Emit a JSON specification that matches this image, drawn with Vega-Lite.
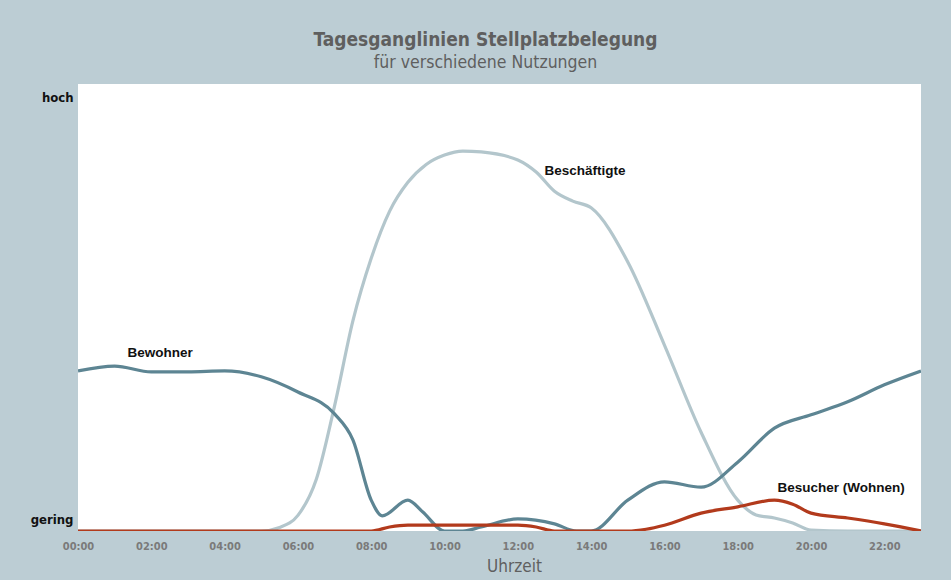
{
  "$schema": "https://vega.github.io/schema/vega-lite/v6.json",
  "autosize": "none",
  "width": 843,
  "height": 447,
  "padding": {"left": 78, "top": 84, "right": 30, "bottom": 49},
  "background": "#bccdd4",
  "config": {
    "view": {"fill": "#ffffff", "stroke": null},
    "font": "Liberation Sans"
  },
  "title": {
    "text": "Tagesganglinien Stellplatzbelegung",
    "subtitle": "für verschiedene Nutzungen",
    "font": "DejaVu Sans Condensed",
    "fontSize": 19,
    "fontWeight": "bold",
    "color": "#5f5f5f",
    "subtitleFont": "DejaVu Sans Condensed",
    "subtitleFontSize": 17.5,
    "subtitleColor": "#5f5f5f",
    "subtitlePadding": 4,
    "anchor": "middle",
    "dx": -14,
    "offset": 13
  },
  "datasets": {
    "lines": [
      {"h": 0, "v": 0, "s": "Beschäftigte"},
      {"h": 5, "v": 0, "s": "Beschäftigte"},
      {"h": 5.5, "v": 0.8, "s": "Beschäftigte"},
      {"h": 6, "v": 3.5, "s": "Beschäftigte"},
      {"h": 6.5, "v": 11.5, "s": "Beschäftigte"},
      {"h": 7, "v": 28, "s": "Beschäftigte"},
      {"h": 7.5, "v": 47, "s": "Beschäftigte"},
      {"h": 8, "v": 61, "s": "Beschäftigte"},
      {"h": 8.5, "v": 71.5, "s": "Beschäftigte"},
      {"h": 9, "v": 78, "s": "Beschäftigte"},
      {"h": 9.5, "v": 82, "s": "Beschäftigte"},
      {"h": 10, "v": 84.1, "s": "Beschäftigte"},
      {"h": 10.5, "v": 85, "s": "Beschäftigte"},
      {"h": 11, "v": 84.8, "s": "Beschäftigte"},
      {"h": 12, "v": 83, "s": "Beschäftigte"},
      {"h": 12.5, "v": 80.3, "s": "Beschäftigte"},
      {"h": 13, "v": 76, "s": "Beschäftigte"},
      {"h": 13.5, "v": 73.8, "s": "Beschäftigte"},
      {"h": 14, "v": 72.3, "s": "Beschäftigte"},
      {"h": 15, "v": 60.2, "s": "Beschäftigte"},
      {"h": 16, "v": 41.6, "s": "Beschäftigte"},
      {"h": 17, "v": 22.1, "s": "Beschäftigte"},
      {"h": 18, "v": 6.9, "s": "Beschäftigte"},
      {"h": 18.5, "v": 3.6, "s": "Beschäftigte"},
      {"h": 19, "v": 2.9, "s": "Beschäftigte"},
      {"h": 19.5, "v": 1.8, "s": "Beschäftigte"},
      {"h": 20, "v": 0.2, "s": "Beschäftigte"},
      {"h": 21, "v": 0, "s": "Beschäftigte"},
      {"h": 23, "v": 0, "s": "Beschäftigte"},
      {"h": 0, "v": 35.8, "s": "Bewohner"},
      {"h": 1, "v": 36.9, "s": "Bewohner"},
      {"h": 2, "v": 35.6, "s": "Bewohner"},
      {"h": 3, "v": 35.6, "s": "Bewohner"},
      {"h": 4, "v": 35.8, "s": "Bewohner"},
      {"h": 5, "v": 34.5, "s": "Bewohner"},
      {"h": 6, "v": 31.1, "s": "Bewohner"},
      {"h": 7, "v": 26.2, "s": "Bewohner"},
      {"h": 7.5, "v": 20.4, "s": "Bewohner"},
      {"h": 8, "v": 6.9, "s": "Bewohner"},
      {"h": 8.3, "v": 3.4, "s": "Bewohner"},
      {"h": 9, "v": 6.9, "s": "Bewohner"},
      {"h": 9.4, "v": 4.3, "s": "Bewohner"},
      {"h": 10, "v": 0, "s": "Bewohner"},
      {"h": 10.5, "v": 0, "s": "Bewohner"},
      {"h": 11, "v": 0.9, "s": "Bewohner"},
      {"h": 12, "v": 2.7, "s": "Bewohner"},
      {"h": 13, "v": 1.6, "s": "Bewohner"},
      {"h": 13.6, "v": 0, "s": "Bewohner"},
      {"h": 14, "v": 0, "s": "Bewohner"},
      {"h": 15, "v": 6.9, "s": "Bewohner"},
      {"h": 16, "v": 11, "s": "Bewohner"},
      {"h": 17, "v": 9.8, "s": "Bewohner"},
      {"h": 18, "v": 15.4, "s": "Bewohner"},
      {"h": 19, "v": 23, "s": "Bewohner"},
      {"h": 20, "v": 26, "s": "Bewohner"},
      {"h": 21, "v": 28.9, "s": "Bewohner"},
      {"h": 22, "v": 32.7, "s": "Bewohner"},
      {"h": 23, "v": 35.8, "s": "Bewohner"},
      {"h": 0, "v": 0, "s": "Besucher"},
      {"h": 8, "v": 0, "s": "Besucher"},
      {"h": 8.5, "v": 0.9, "s": "Besucher"},
      {"h": 9, "v": 1.3, "s": "Besucher"},
      {"h": 10, "v": 1.3, "s": "Besucher"},
      {"h": 11, "v": 1.3, "s": "Besucher"},
      {"h": 12, "v": 1.3, "s": "Besucher"},
      {"h": 12.5, "v": 0.9, "s": "Besucher"},
      {"h": 13, "v": 0, "s": "Besucher"},
      {"h": 15, "v": 0, "s": "Besucher"},
      {"h": 15.5, "v": 0.4, "s": "Besucher"},
      {"h": 16, "v": 1.3, "s": "Besucher"},
      {"h": 17, "v": 4, "s": "Besucher"},
      {"h": 18, "v": 5.4, "s": "Besucher"},
      {"h": 19, "v": 6.9, "s": "Besucher"},
      {"h": 19.5, "v": 6, "s": "Besucher"},
      {"h": 20, "v": 4, "s": "Besucher"},
      {"h": 21, "v": 2.9, "s": "Besucher"},
      {"h": 22, "v": 1.6, "s": "Besucher"},
      {"h": 23, "v": 0, "s": "Besucher"}
    ],
    "labels": [
      {"h": 2.24, "v": 39.8, "t": "Bewohner"},
      {"h": 13.83, "v": 80.5, "t": "Beschäftigte"},
      {"h": 20.82, "v": 9.6, "t": "Besucher (Wohnen)"}
    ]
  },
  "layer": [
    {
      "data": {"name": "lines"},
      "mark": {"type": "line", "interpolate": "monotone", "strokeWidth": 3.2, "clip": true},
      "encoding": {
        "x": {
          "field": "h", "type": "quantitative",
          "scale": {"domain": [0, 23], "nice": false, "zero": false},
          "axis": {
            "values": [0, 2, 4, 6, 8, 10, 12, 14, 16, 18, 20, 22],
            "labelExpr": "(datum.value < 10 ? '0' : '') + datum.value + ':00'",
            "title": "Uhrzeit",
            "titleFont": "DejaVu Sans Condensed",
            "titleFontSize": 17,
            "titleFontWeight": "normal",
            "titleColor": "#5f5f5f",
            "titlePadding": 7,
            "titleX": 436,
            "labelFont": "DejaVu Sans Condensed",
            "labelFontSize": 11,
            "labelFontWeight": "bold",
            "labelColor": "#7a7a7a",
            "labelPadding": 9,
            "labelFlush": false,
            "domain": false,
            "ticks": false,
            "grid": false
          }
        },
        "y": {
          "field": "v", "type": "quantitative",
          "scale": {"domain": [0, 100], "nice": false},
          "axis": {
            "values": [2.5, 97],
            "labelExpr": "datum.value > 50 ? 'hoch' : 'gering'",
            "title": null,
            "labelFont": "DejaVu Sans Condensed",
            "labelFontSize": 13,
            "labelFontWeight": "bold",
            "labelColor": "#111111",
            "labelPadding": 5,
            "domain": false,
            "ticks": false,
            "grid": false
          }
        },
        "color": {
          "field": "s", "type": "nominal",
          "scale": {"domain": ["Beschäftigte", "Bewohner", "Besucher"], "range": ["#b3c6cc", "#5d8593", "#b23a1c"]},
          "legend": null
        },
        "order": {"value": 0}
      }
    },
    {
      "data": {"name": "labels"},
      "mark": {"type": "text", "font": "Liberation Sans", "fontSize": 13.5, "fontWeight": "bold", "color": "#111111", "align": "center", "baseline": "middle"},
      "encoding": {
        "x": {"field": "h", "type": "quantitative"},
        "y": {"field": "v", "type": "quantitative"},
        "text": {"field": "t"}
      }
    }
  ]
}
